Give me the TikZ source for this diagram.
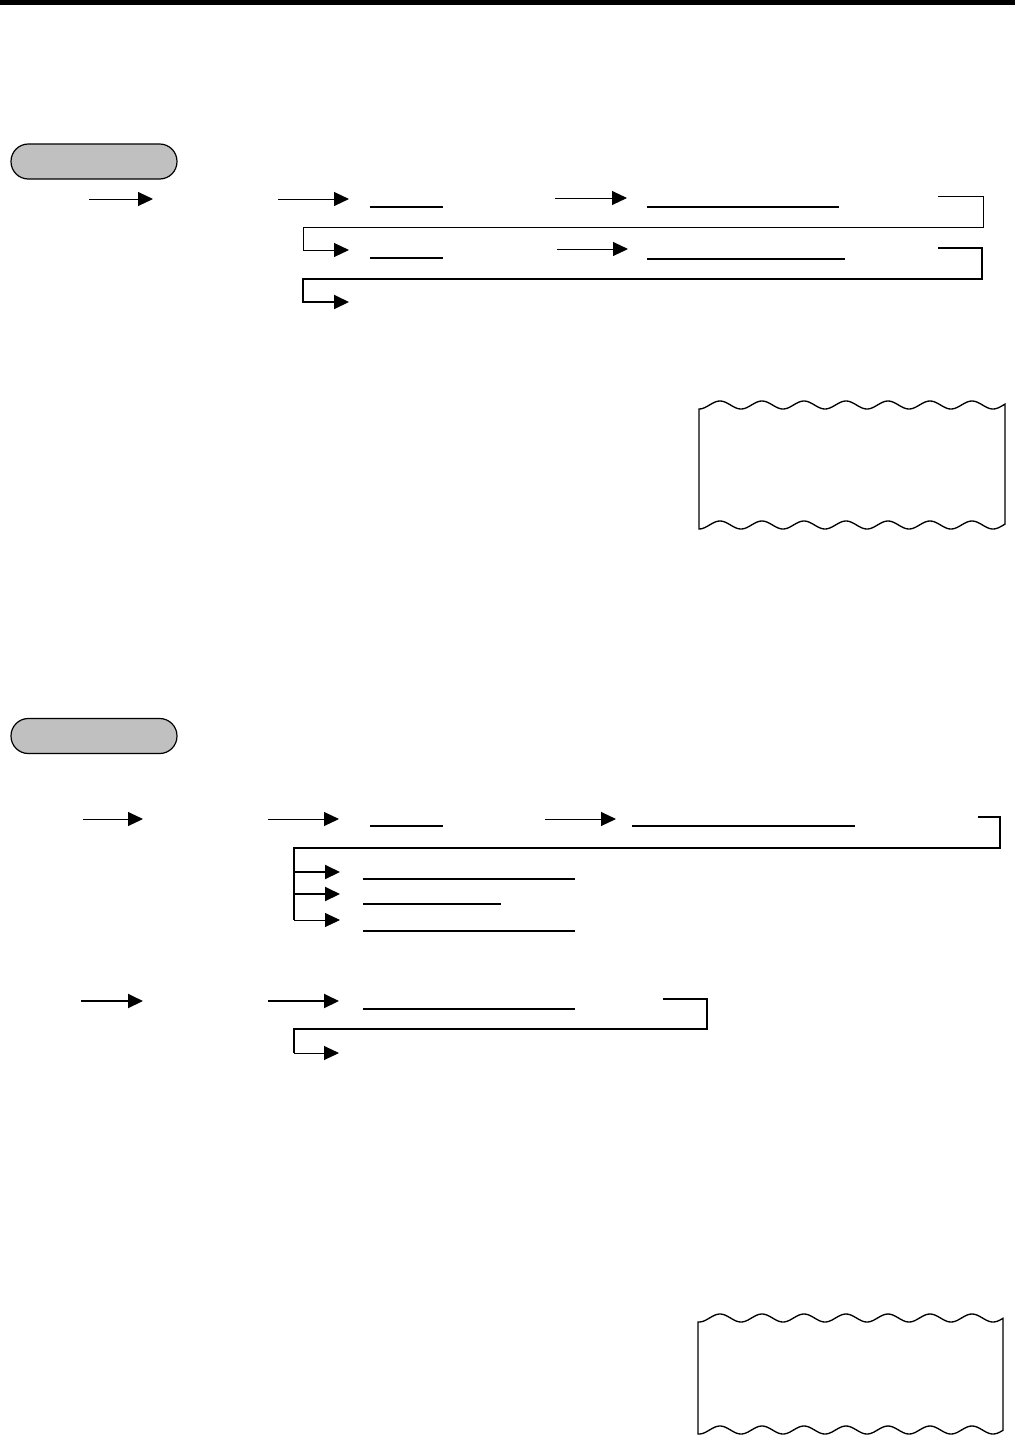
\documentclass[tikz,border=0pt]{standalone}
\usetikzlibrary{arrows.meta}
\definecolor{pillgray}{RGB}{192,192,192}
\tikzset{
  px/.style={x=0.75pt,y=-0.75pt},
  arr/.style={line width=0.75pt,-{Triangle[length=11.25pt,width=10.5pt]}},
  arrthick/.style={line width=1.5pt,-{Triangle[length=11.25pt,width=10.5pt]}},
  thinline/.style={line width=0.75pt},
  thickline/.style={line width=1.5pt},
  uline/.style={line width=1.5pt},
  ulinethin/.style={line width=1pt},
  pill/.style={draw=black,line width=0.9pt,fill=pillgray,rounded corners=13pt,
    minimum width=124.5pt,minimum height=26.25pt,inner sep=0pt},
  paper/.style={draw=black,line width=1pt,fill=white}
}
\begin{document}
\begin{tikzpicture}[px]
\useasboundingbox (0,0) rectangle (1015,1436);
% top rule
\fill[black] (0,0) rectangle (1015,4.5);

% ===== section 1 =====
\node[pill] (pillA) at (94,161.5) {};

\coordinate (r1a) at (89,199);   \coordinate (r1b) at (153,199);
\coordinate (r1c) at (278,199);  \coordinate (r1d) at (349,199);
\coordinate (r1e) at (555,198);  \coordinate (r1f) at (627,198);
\draw[arr] (r1a) -- (r1b);
\draw[arr] (r1c) -- (r1d);
\draw[arr] (r1e) -- (r1f);
\draw[uline] (370,207) -- (443,207);
\draw[uline] (647,207) -- (839,207);
% bracket 1
\coordinate (b1s) at (938,196);
\coordinate (b1e) at (349,250);
\draw[arr] (b1s) -- (983,196) -- (983,227) -- (303,227) -- (303,250) -- (b1e);

\coordinate (r2e) at (557,249);  \coordinate (r2f) at (628,249);
\draw[arr] (r2e) -- (r2f);
\draw[uline] (370,258) -- (443,258);
\draw[uline] (647,259) -- (845,259);
% bracket 2
\coordinate (b2s) at (938,248);
\coordinate (b2e) at (349,302);
\draw[arrthick] (b2s) -- (982,248) -- (982,279) -- (303,279) -- (303,302) -- (b2e);

% paper 1
\draw[paper]
  plot[domain=699:1005,samples=160,smooth] (\x,{405-4*cos(8.5714*(\x-720))})
  -- plot[domain=1005:699,samples=160,smooth] (\x,{525-4*cos(8.5714*(\x-720))})
  -- cycle;

% ===== section 2 =====
\node[pill] (pillB) at (94,736) {};

\coordinate (s1a) at (83,819);   \coordinate (s1b) at (143,819);
\coordinate (s1c) at (268,819);  \coordinate (s1d) at (339,819);
\coordinate (s1e) at (545,819);  \coordinate (s1f) at (616,819);
\draw[arr] (s1a) -- (s1b);
\draw[arr] (s1c) -- (s1d);
\draw[arr] (s1e) -- (s1f);
\draw[ulinethin] (370,826) -- (443,826);
\draw[ulinethin] (632,826) -- (855,826);
% bracket with three branches
\coordinate (c1s) at (978,817);
\coordinate (c1a) at (340,872);
\coordinate (c1b) at (340,894);
\coordinate (c1c) at (340,920);
\draw[line width=1.1pt] (c1s) -- (1000,817) -- (1000,848) -- (294,848) -- (294,920);
\draw[arrthick] (294,872) -- (c1a);
\draw[arrthick] (294,894) -- (c1b);
\draw[arr] (294,920) -- (c1c);
\draw[uline] (363,879) -- (575,879);
\draw[ulinethin] (363,904) -- (501,904);
\draw[uline] (363,931) -- (575,931);

% third row
\coordinate (t1a) at (81,1001);  \coordinate (t1b) at (143,1001);
\coordinate (t1c) at (268,1001); \coordinate (t1d) at (339,1001);
\draw[arrthick] (t1a) -- (t1b);
\draw[arrthick] (t1c) -- (t1d);
\draw[uline] (363,1009) -- (575,1009);
\coordinate (d1s) at (663,999);
\coordinate (d1e) at (339,1053);
\draw[thickline] (d1s) -- (707,999) -- (707,1029) -- (294,1029) -- (294,1053);
\draw[arr] (294,1053) -- (d1e);

% paper 2
\draw[paper]
  plot[domain=698:1003,samples=160,smooth] (\x,{1318-4*cos(8.5714*(\x-720))})
  -- plot[domain=1003:698,samples=160,smooth] (\x,{1430-4*cos(8.5714*(\x-720))})
  -- cycle;
\end{tikzpicture}
\end{document}
